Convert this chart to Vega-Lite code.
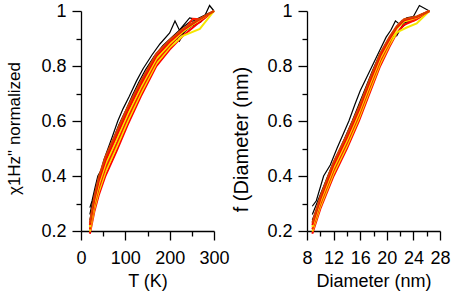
{
  "$schema": "https://vega.github.io/schema/vega-lite/v6.json",
  "padding": {"left": 5, "top": 2, "right": 3, "bottom": 4},
  "spacing": 1,
  "config": {
    "view": {"stroke": null},
    "font": "Liberation Sans",
    "axis": {
      "grid": false,
      "domainColor": "#000",
      "domainWidth": 1.3,
      "tickColor": "#000",
      "tickWidth": 1.3,
      "labelColor": "#000",
      "titleColor": "#000",
      "labelFont": "Liberation Sans",
      "titleFont": "Liberation Sans",
      "labelFontSize": 18,
      "titleFontSize": 18,
      "titleFontWeight": "normal",
      "labelFlush": false,
      "labelOverlap": false
    },
    "axisY": {"titleFontSize": 17}
  },
  "datasets": {
    "left": [
      {"g":"k","s":"a1","x":20,"v":0.285},{"g":"k","s":"a1","x":25,"v":0.31},{"g":"k","s":"a1","x":32,"v":0.36},{"g":"k","s":"a1","x":38,"v":0.40},{"g":"k","s":"a1","x":45,"v":0.42},{"g":"k","s":"a1","x":52,"v":0.46},{"g":"k","s":"a1","x":61,"v":0.50},{"g":"k","s":"a1","x":70,"v":0.54},{"g":"k","s":"a1","x":83,"v":0.60},{"g":"k","s":"a1","x":95,"v":0.645},{"g":"k","s":"a1","x":109,"v":0.69},{"g":"k","s":"a1","x":125,"v":0.745},{"g":"k","s":"a1","x":140,"v":0.79},{"g":"k","s":"a1","x":160,"v":0.84},{"g":"k","s":"a1","x":178,"v":0.88},{"g":"k","s":"a1","x":200,"v":0.92},{"g":"k","s":"a1","x":212,"v":0.964},{"g":"k","s":"a1","x":222,"v":0.93},{"g":"k","s":"a1","x":245,"v":0.975},{"g":"k","s":"a1","x":260,"v":0.97},{"g":"k","s":"a1","x":280,"v":0.985},{"g":"k","s":"a1","x":290,"v":1.02},{"g":"k","s":"a1","x":300,"v":1.0},
      {"g":"k","s":"a2","x":20,"v":0.26},{"g":"k","s":"a2","x":28,"v":0.32},{"g":"k","s":"a2","x":38,"v":0.38},{"g":"k","s":"a2","x":48,"v":0.43},{"g":"k","s":"a2","x":60,"v":0.48},{"g":"k","s":"a2","x":72,"v":0.53},{"g":"k","s":"a2","x":85,"v":0.585},{"g":"k","s":"a2","x":100,"v":0.635},{"g":"k","s":"a2","x":115,"v":0.69},{"g":"k","s":"a2","x":130,"v":0.74},{"g":"k","s":"a2","x":145,"v":0.785},{"g":"k","s":"a2","x":165,"v":0.835},{"g":"k","s":"a2","x":185,"v":0.875},{"g":"k","s":"a2","x":205,"v":0.905},{"g":"k","s":"a2","x":225,"v":0.935},{"g":"k","s":"a2","x":245,"v":0.96},{"g":"k","s":"a2","x":265,"v":0.97},{"g":"k","s":"a2","x":285,"v":0.99},{"g":"k","s":"a2","x":300,"v":1.0},
      {"g":"k","s":"a3","x":20,"v":0.24},{"g":"k","s":"a3","x":30,"v":0.31},{"g":"k","s":"a3","x":40,"v":0.37},{"g":"k","s":"a3","x":52,"v":0.43},{"g":"k","s":"a3","x":65,"v":0.49},{"g":"k","s":"a3","x":80,"v":0.55},{"g":"k","s":"a3","x":95,"v":0.605},{"g":"k","s":"a3","x":110,"v":0.655},{"g":"k","s":"a3","x":125,"v":0.705},{"g":"k","s":"a3","x":140,"v":0.755},{"g":"k","s":"a3","x":160,"v":0.805},{"g":"k","s":"a3","x":180,"v":0.85},{"g":"k","s":"a3","x":200,"v":0.89},{"g":"k","s":"a3","x":215,"v":0.905},{"g":"k","s":"a3","x":222,"v":0.89},{"g":"k","s":"a3","x":235,"v":0.93},{"g":"k","s":"a3","x":255,"v":0.955},{"g":"k","s":"a3","x":275,"v":0.975},{"g":"k","s":"a3","x":300,"v":1.0},
      {"g":"k","s":"a4","x":20,"v":0.22},{"g":"k","s":"a4","x":30,"v":0.29},{"g":"k","s":"a4","x":42,"v":0.37},{"g":"k","s":"a4","x":55,"v":0.43},{"g":"k","s":"a4","x":68,"v":0.49},{"g":"k","s":"a4","x":82,"v":0.545},{"g":"k","s":"a4","x":98,"v":0.605},{"g":"k","s":"a4","x":115,"v":0.665},{"g":"k","s":"a4","x":132,"v":0.715},{"g":"k","s":"a4","x":150,"v":0.765},{"g":"k","s":"a4","x":170,"v":0.815},{"g":"k","s":"a4","x":190,"v":0.855},{"g":"k","s":"a4","x":210,"v":0.89},{"g":"k","s":"a4","x":230,"v":0.92},{"g":"k","s":"a4","x":250,"v":0.945},{"g":"k","s":"a4","x":270,"v":0.96},{"g":"k","s":"a4","x":285,"v":0.985},{"g":"k","s":"a4","x":300,"v":1.0},
      {"g":"c","s":"c0","x":20,"v":0.19},{"g":"c","s":"c0","x":30,"v":0.27},{"g":"c","s":"c0","x":40,"v":0.33},{"g":"c","s":"c0","x":55,"v":0.40},{"g":"c","s":"c0","x":80,"v":0.49},{"g":"c","s":"c0","x":105,"v":0.585},{"g":"c","s":"c0","x":135,"v":0.69},{"g":"c","s":"c0","x":170,"v":0.80},{"g":"c","s":"c0","x":200,"v":0.86},{"g":"c","s":"c0","x":230,"v":0.91},{"g":"c","s":"c0","x":260,"v":0.95},{"g":"c","s":"c0","x":300,"v":1.0},
      {"g":"c","s":"c1","x":20,"v":0.198},{"g":"c","s":"c1","x":30,"v":0.281},{"g":"c","s":"c1","x":40,"v":0.343},{"g":"c","s":"c1","x":55,"v":0.414},{"g":"c","s":"c1","x":80,"v":0.504},{"g":"c","s":"c1","x":105,"v":0.598},{"g":"c","s":"c1","x":135,"v":0.701},{"g":"c","s":"c1","x":170,"v":0.809},{"g":"c","s":"c1","x":200,"v":0.867},{"g":"c","s":"c1","x":230,"v":0.91},{"g":"c","s":"c1","x":268,"v":0.935},{"g":"c","s":"c1","x":300,"v":1.0},
      {"g":"c","s":"c2","x":20,"v":0.206},{"g":"c","s":"c2","x":30,"v":0.292},{"g":"c","s":"c2","x":40,"v":0.356},{"g":"c","s":"c2","x":55,"v":0.428},{"g":"c","s":"c2","x":80,"v":0.518},{"g":"c","s":"c2","x":105,"v":0.611},{"g":"c","s":"c2","x":135,"v":0.712},{"g":"c","s":"c2","x":170,"v":0.818},{"g":"c","s":"c2","x":200,"v":0.874},{"g":"c","s":"c2","x":230,"v":0.925},{"g":"c","s":"c2","x":252,"v":0.972},{"g":"c","s":"c2","x":270,"v":0.97},{"g":"c","s":"c2","x":300,"v":1.0},
      {"g":"c","s":"c3","x":20,"v":0.214},{"g":"c","s":"c3","x":30,"v":0.303},{"g":"c","s":"c3","x":40,"v":0.369},{"g":"c","s":"c3","x":55,"v":0.442},{"g":"c","s":"c3","x":80,"v":0.532},{"g":"c","s":"c3","x":105,"v":0.624},{"g":"c","s":"c3","x":135,"v":0.723},{"g":"c","s":"c3","x":170,"v":0.827},{"g":"c","s":"c3","x":200,"v":0.881},{"g":"c","s":"c3","x":230,"v":0.925},{"g":"c","s":"c3","x":260,"v":0.959},{"g":"c","s":"c3","x":300,"v":1.0},
      {"g":"c","s":"c4","x":20,"v":0.222},{"g":"c","s":"c4","x":30,"v":0.314},{"g":"c","s":"c4","x":40,"v":0.382},{"g":"c","s":"c4","x":55,"v":0.456},{"g":"c","s":"c4","x":80,"v":0.546},{"g":"c","s":"c4","x":105,"v":0.637},{"g":"c","s":"c4","x":135,"v":0.734},{"g":"c","s":"c4","x":170,"v":0.836},{"g":"c","s":"c4","x":200,"v":0.888},{"g":"c","s":"c4","x":230,"v":0.93},{"g":"c","s":"c4","x":260,"v":0.962},{"g":"c","s":"c4","x":300,"v":1.0},
      {"g":"c","s":"c5","x":20,"v":0.23},{"g":"c","s":"c5","x":30,"v":0.325},{"g":"c","s":"c5","x":40,"v":0.395},{"g":"c","s":"c5","x":55,"v":0.47},{"g":"c","s":"c5","x":80,"v":0.56},{"g":"c","s":"c5","x":105,"v":0.65},{"g":"c","s":"c5","x":135,"v":0.745},{"g":"c","s":"c5","x":170,"v":0.845},{"g":"c","s":"c5","x":200,"v":0.895},{"g":"c","s":"c5","x":230,"v":0.935},{"g":"c","s":"c5","x":260,"v":0.965},{"g":"c","s":"c5","x":300,"v":1.0}
    ],
    "right": [
      {"g":"k","s":"a1","x":8.8,"v":0.29},{"g":"k","s":"a1","x":9.4,"v":0.31},{"g":"k","s":"a1","x":10.5,"v":0.40},{"g":"k","s":"a1","x":11.5,"v":0.44},{"g":"k","s":"a1","x":12.5,"v":0.50},{"g":"k","s":"a1","x":13.4,"v":0.55},{"g":"k","s":"a1","x":14.3,"v":0.60},{"g":"k","s":"a1","x":15.2,"v":0.66},{"g":"k","s":"a1","x":16,"v":0.71},{"g":"k","s":"a1","x":17,"v":0.76},{"g":"k","s":"a1","x":17.8,"v":0.80},{"g":"k","s":"a1","x":19,"v":0.86},{"g":"k","s":"a1","x":19.9,"v":0.905},{"g":"k","s":"a1","x":20.6,"v":0.93},{"g":"k","s":"a1","x":21.3,"v":0.964},{"g":"k","s":"a1","x":22,"v":0.95},{"g":"k","s":"a1","x":23,"v":0.975},{"g":"k","s":"a1","x":24,"v":0.98},{"g":"k","s":"a1","x":24.9,"v":1.02},{"g":"k","s":"a1","x":26.4,"v":1.0},
      {"g":"k","s":"a2","x":8.8,"v":0.26},{"g":"k","s":"a2","x":9.8,"v":0.32},{"g":"k","s":"a2","x":10.8,"v":0.38},{"g":"k","s":"a2","x":11.8,"v":0.44},{"g":"k","s":"a2","x":12.8,"v":0.49},{"g":"k","s":"a2","x":13.8,"v":0.545},{"g":"k","s":"a2","x":14.8,"v":0.60},{"g":"k","s":"a2","x":15.8,"v":0.66},{"g":"k","s":"a2","x":16.8,"v":0.72},{"g":"k","s":"a2","x":17.8,"v":0.78},{"g":"k","s":"a2","x":18.8,"v":0.835},{"g":"k","s":"a2","x":19.8,"v":0.88},{"g":"k","s":"a2","x":20.8,"v":0.92},{"g":"k","s":"a2","x":21.8,"v":0.945},{"g":"k","s":"a2","x":23,"v":0.965},{"g":"k","s":"a2","x":24.5,"v":0.98},{"g":"k","s":"a2","x":26.4,"v":1.0},
      {"g":"k","s":"a3","x":8.8,"v":0.24},{"g":"k","s":"a3","x":9.8,"v":0.30},{"g":"k","s":"a3","x":11,"v":0.37},{"g":"k","s":"a3","x":12,"v":0.42},{"g":"k","s":"a3","x":13,"v":0.475},{"g":"k","s":"a3","x":14,"v":0.53},{"g":"k","s":"a3","x":15,"v":0.59},{"g":"k","s":"a3","x":16,"v":0.65},{"g":"k","s":"a3","x":17,"v":0.71},{"g":"k","s":"a3","x":18,"v":0.77},{"g":"k","s":"a3","x":19,"v":0.83},{"g":"k","s":"a3","x":20,"v":0.87},{"g":"k","s":"a3","x":20.6,"v":0.905},{"g":"k","s":"a3","x":21.5,"v":0.91},{"g":"k","s":"a3","x":22.5,"v":0.955},{"g":"k","s":"a3","x":24,"v":0.97},{"g":"k","s":"a3","x":26.4,"v":1.0},
      {"g":"k","s":"a4","x":8.8,"v":0.22},{"g":"k","s":"a4","x":10,"v":0.30},{"g":"k","s":"a4","x":11,"v":0.36},{"g":"k","s":"a4","x":12,"v":0.41},{"g":"k","s":"a4","x":13,"v":0.46},{"g":"k","s":"a4","x":14,"v":0.52},{"g":"k","s":"a4","x":15,"v":0.58},{"g":"k","s":"a4","x":16,"v":0.64},{"g":"k","s":"a4","x":17,"v":0.70},{"g":"k","s":"a4","x":18,"v":0.76},{"g":"k","s":"a4","x":19,"v":0.82},{"g":"k","s":"a4","x":20,"v":0.865},{"g":"k","s":"a4","x":21,"v":0.905},{"g":"k","s":"a4","x":22,"v":0.935},{"g":"k","s":"a4","x":23,"v":0.955},{"g":"k","s":"a4","x":25,"v":0.985},{"g":"k","s":"a4","x":26.4,"v":1.0},
      {"g":"c","s":"c0","x":8.8,"v":0.19},{"g":"c","s":"c0","x":10,"v":0.28},{"g":"c","s":"c0","x":12,"v":0.40},{"g":"c","s":"c0","x":14,"v":0.50},{"g":"c","s":"c0","x":15.8,"v":0.60},{"g":"c","s":"c0","x":17.4,"v":0.70},{"g":"c","s":"c0","x":19,"v":0.80},{"g":"c","s":"c0","x":20.4,"v":0.87},{"g":"c","s":"c0","x":21.5,"v":0.92},{"g":"c","s":"c0","x":22.6,"v":0.95},{"g":"c","s":"c0","x":24.5,"v":0.97},{"g":"c","s":"c0","x":26.4,"v":1.0},
      {"g":"c","s":"c1","x":8.8,"v":0.198},{"g":"c","s":"c1","x":10,"v":0.289},{"g":"c","s":"c1","x":12,"v":0.41},{"g":"c","s":"c1","x":14,"v":0.51},{"g":"c","s":"c1","x":15.8,"v":0.61},{"g":"c","s":"c1","x":17.4,"v":0.71},{"g":"c","s":"c1","x":19,"v":0.809},{"g":"c","s":"c1","x":20.4,"v":0.877},{"g":"c","s":"c1","x":21.5,"v":0.922},{"g":"c","s":"c1","x":23,"v":0.94},{"g":"c","s":"c1","x":24.5,"v":0.955},{"g":"c","s":"c1","x":26.4,"v":1.0},
      {"g":"c","s":"c2","x":8.8,"v":0.206},{"g":"c","s":"c2","x":10,"v":0.298},{"g":"c","s":"c2","x":12,"v":0.42},{"g":"c","s":"c2","x":14,"v":0.52},{"g":"c","s":"c2","x":15.8,"v":0.62},{"g":"c","s":"c2","x":17.4,"v":0.72},{"g":"c","s":"c2","x":19,"v":0.818},{"g":"c","s":"c2","x":20.4,"v":0.884},{"g":"c","s":"c2","x":21.3,"v":0.935},{"g":"c","s":"c2","x":22.3,"v":0.965},{"g":"c","s":"c2","x":24,"v":0.965},{"g":"c","s":"c2","x":26.4,"v":1.0},
      {"g":"c","s":"c3","x":8.8,"v":0.214},{"g":"c","s":"c3","x":10,"v":0.307},{"g":"c","s":"c3","x":12,"v":0.43},{"g":"c","s":"c3","x":14,"v":0.53},{"g":"c","s":"c3","x":15.8,"v":0.63},{"g":"c","s":"c3","x":17.4,"v":0.73},{"g":"c","s":"c3","x":19,"v":0.827},{"g":"c","s":"c3","x":20.4,"v":0.891},{"g":"c","s":"c3","x":21.5,"v":0.935},{"g":"c","s":"c3","x":22.6,"v":0.962},{"g":"c","s":"c3","x":24.5,"v":0.976},{"g":"c","s":"c3","x":26.4,"v":1.0},
      {"g":"c","s":"c4","x":8.8,"v":0.222},{"g":"c","s":"c4","x":10,"v":0.316},{"g":"c","s":"c4","x":12,"v":0.44},{"g":"c","s":"c4","x":14,"v":0.54},{"g":"c","s":"c4","x":15.8,"v":0.64},{"g":"c","s":"c4","x":17.4,"v":0.74},{"g":"c","s":"c4","x":19,"v":0.836},{"g":"c","s":"c4","x":20.4,"v":0.898},{"g":"c","s":"c4","x":21.5,"v":0.94},{"g":"c","s":"c4","x":22.6,"v":0.966},{"g":"c","s":"c4","x":24.5,"v":0.978},{"g":"c","s":"c4","x":26.4,"v":1.0},
      {"g":"c","s":"c5","x":8.8,"v":0.23},{"g":"c","s":"c5","x":10,"v":0.325},{"g":"c","s":"c5","x":12,"v":0.45},{"g":"c","s":"c5","x":14,"v":0.55},{"g":"c","s":"c5","x":15.8,"v":0.65},{"g":"c","s":"c5","x":17.4,"v":0.75},{"g":"c","s":"c5","x":19,"v":0.845},{"g":"c","s":"c5","x":20.4,"v":0.905},{"g":"c","s":"c5","x":21.5,"v":0.945},{"g":"c","s":"c5","x":22.6,"v":0.97},{"g":"c","s":"c5","x":24.5,"v":0.98},{"g":"c","s":"c5","x":26.4,"v":1.0}
    ]
  },
  "hconcat": [
    {
      "width": 133,
      "height": 220,
      "data": {"name": "left"},
      "encoding": {
        "x": {"field": "x", "type": "quantitative", "scale": {"domain": [0, 300], "nice": false, "zero": false},
          "axis": {"values": [0, 50, 100, 150, 200, 250, 300], "title": "T (K)",
            "tickSize": {"condition": {"test": "datum.value % 100 == 0", "value": 9}, "value": 5},
            "labelExpr": "datum.value % 100 == 0 ? format(datum.value, '~g') : ''",
            "labelPadding": 9, "titlePadding": 5}},
        "y": {"field": "v", "type": "quantitative", "scale": {"domain": [0.2, 1], "nice": false, "zero": false},
          "axis": {"values": [0.2, 0.3, 0.4, 0.5, 0.6, 0.7, 0.8, 0.9, 1], "title": "χ1Hz\" normalized",
            "tickSize": {"condition": {"test": "round(datum.value*10) % 2 == 0", "value": 9}, "value": 5},
            "labelExpr": "round(datum.value*10) % 2 == 0 ? format(datum.value, '~g') : ''",
            "labelPadding": 6, "titlePadding": 17, "titleY": 117}}
      },
      "layer": [
        {"transform": [{"filter": "datum.g == 'k'"}], "mark": {"type": "line", "color": "#000", "strokeWidth": 1.2}, "encoding": {"detail": {"field": "s"}}},
        {"transform": [{"filter": "datum.g == 'c'"}], "mark": {"type": "line", "strokeWidth": 2},
          "encoding": {"color": {"field": "s", "type": "nominal", "legend": null,
            "scale": {"domain": ["c0", "c1", "c2", "c3", "c4", "c5"], "range": ["#ff0000", "#f5e600", "#ff1a00", "#f5e600", "#ff0000", "#d84000"]}}}}
      ]
    },
    {
      "width": 133,
      "height": 220,
      "data": {"name": "right"},
      "encoding": {
        "x": {"field": "x", "type": "quantitative", "scale": {"domain": [8, 28], "nice": false, "zero": false},
          "axis": {"values": [8, 10, 12, 14, 16, 18, 20, 22, 24, 26, 28], "title": "Diameter (nm)",
            "tickSize": {"condition": {"test": "datum.value % 4 == 0", "value": 9}, "value": 5},
            "labelExpr": "datum.value % 4 == 0 ? format(datum.value, '~g') : ''",
            "labelPadding": 9, "titlePadding": 5}},
        "y": {"field": "v", "type": "quantitative", "scale": {"domain": [0.2, 1], "nice": false, "zero": false},
          "axis": {"values": [0.2, 0.3, 0.4, 0.5, 0.6, 0.7, 0.8, 0.9, 1], "title": "f (Diameter (nm)",
            "tickSize": {"condition": {"test": "round(datum.value*10) % 2 == 0", "value": 9}, "value": 5},
            "labelExpr": "round(datum.value*10) % 2 == 0 ? format(datum.value, '~g') : ''",
            "labelPadding": 6, "titlePadding": 15, "titleFontSize": 20, "titleY": 128}}
      },
      "layer": [
        {"transform": [{"filter": "datum.g == 'k'"}], "mark": {"type": "line", "color": "#000", "strokeWidth": 1.2}, "encoding": {"detail": {"field": "s"}}},
        {"transform": [{"filter": "datum.g == 'c'"}], "mark": {"type": "line", "strokeWidth": 2},
          "encoding": {"color": {"field": "s", "type": "nominal", "legend": null,
            "scale": {"domain": ["c0", "c1", "c2", "c3", "c4", "c5"], "range": ["#ff0000", "#f5e600", "#ff1a00", "#f5e600", "#ff0000", "#d84000"]}}}}
      ]
    }
  ]
}
